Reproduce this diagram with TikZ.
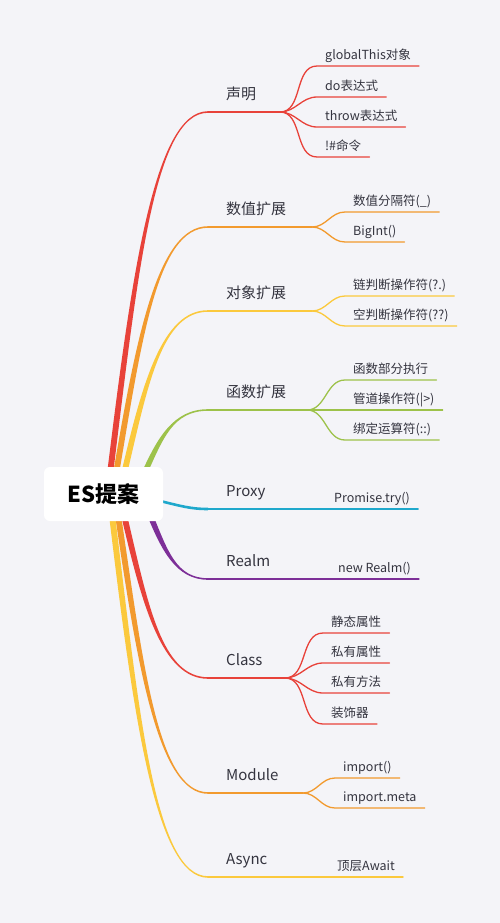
\documentclass[tikz,border=0pt]{standalone}
\usepackage{fontspec}
\setmainfont{Noto Sans CJK SC}
\usepackage{xcolor}
\usepackage{tikz}
\usetikzlibrary{
	positioning,    % posizionamento relativo
	calc            % per le coordinate calcolate (let)
}

% --- Colori ---
\definecolor{sfondo}{HTML}{F4F4F8}
\definecolor{testo}{HTML}{34343F}
\definecolor{rosso}{HTML}{E8423A}
\definecolor{arancio}{HTML}{F29A2E}
\definecolor{giallo}{HTML}{FBC93D}
\definecolor{verde}{HTML}{9DC24A}
\definecolor{ciano}{HTML}{1FA8CC}
\definecolor{viola}{HTML}{7D2F98}

\tikzset{
	radice/.style={fill=white, rounded corners=6pt, minimum width=119pt, minimum height=54pt,
		text=black, font=\fontsize{22}{26}\selectfont\bfseries},
	tema/.style={anchor=base west, inner sep=0pt, text=testo, font=\fontsize{15}{18}\selectfont},
	foglia/.style={anchor=south west, inner xsep=8pt, inner ysep=4pt, text depth=0.25em,
		text=testo, font=\fontsize{12.5}{15}\selectfont},
	linea/.style={line width=1.6pt},
	sottolinea/.style={line width=1.3pt, line cap=round}
}

% Ramo principale rastremato: colore, partenza, arrivo
\newcommand{\ramo}[3]{%
	\fill[#1] let \p1=(#2), \p2=(#3), \n1={ifthenelse(\y2>\y1,1,-1)} in
	({\x1-3pt},\y1) .. controls ({\x1-3pt+0.25*(\x2-\x1)},{\y1+0.55*(\y2-\y1)}) and ({\x1+0.45*(\x2-\x1)},{\y2+\n1*0.8pt}) .. (\x2,{\y2+\n1*0.8pt})
	-- (\x2,{\y2-\n1*0.8pt}) .. controls ({\x1+0.45*(\x2-\x1)},{\y2-\n1*0.8pt}) and ({\x1+3pt+0.25*(\x2-\x1)},{\y1+0.55*(\y2-\y1)}) .. ({\x1+3pt},\y1) -- cycle;
}
% Foglia: colore, biforcazione, nome, x, y, testo
\newcommand{\figlio}[6]{%
	\node[foglia] (#3) at (#4,#5) {#6};
	\draw[#1, sottolinea] (#2) to[out=0,in=180] (#3.south west) -- (#3.south east);
}

\begin{document}
\begin{tikzpicture}[x=1pt, y=-1pt]
	% --- Sfondo ---
	\fill[sfondo] (0,0) rectangle (500,923);
	
	% --- Partenze dei rami (sotto la radice) ---
	\coordinate (r1) at (110,474);
	\coordinate (r2) at (116,474);
	\coordinate (r3) at (124,474);
	\coordinate (r4) at (144,474);
	\coordinate (r5) at (156,500);
	\coordinate (r6) at (150,515);
	\coordinate (r7) at (124,515);
	\coordinate (r8) at (118,515);
	\coordinate (r9) at (112,515);
	
	% --- Temi ---
	\coordinate (a1) at (208,112); \coordinate (s1) at (280,112);
	\coordinate (a2) at (208,227); \coordinate (s2) at (312,227);
	\coordinate (a3) at (208,311); \coordinate (s3) at (312,311);
	\coordinate (a4) at (208,410); \coordinate (s4) at (307,410);
	\coordinate (a5) at (208,509); \coordinate (s5) at (290,509);
	\coordinate (a6) at (208,579); \coordinate (s6) at (290,579);
	\coordinate (a7) at (208,678); \coordinate (s7) at (285,678);
	\coordinate (a8) at (208,793); \coordinate (s8) at (303,793);
	\coordinate (a9) at (208,877); \coordinate (s9) at (290,877);
	
	\node[tema] (t1) at (226,99.5) {声明};
	\node[tema] (t2) at (226,214.5) {数值扩展};
	\node[tema] (t3) at (226,298.5) {对象扩展};
	\node[tema] (t4) at (226,397.5) {函数扩展};
	\node[tema] (t5) at (226,496.5) {Proxy};
	\node[tema] (t6) at (226,566.5) {Realm};
	\node[tema] (t7) at (226,665.5) {Class};
	\node[tema] (t8) at (226,780.5) {Module};
	\node[tema] (t9) at (226,864.5) {Async};
	
	% --- Rami principali ---
	\ramo{rosso}{r1}{a1}
	\ramo{arancio}{r2}{a2}
	\ramo{giallo}{r3}{a3}
	\ramo{verde}{r4}{a4}
	\draw[ciano, line width=2.6pt] (r5) .. controls +(25,6) and +(-18,0) .. (a5);
	\ramo{viola}{r6}{a6}
	\ramo{rosso}{r7}{a7}
	\ramo{arancio}{r8}{a8}
	\ramo{giallo}{r9}{a9}
	
	\draw[rosso, linea] (a1) -- (s1);
	\draw[arancio, linea] (a2) -- (s2);
	\draw[giallo, linea] (a3) -- (s3);
	\draw[verde, linea] (a4) -- (s4);
	\draw[ciano, linea] (a5) -- (s5);
	\draw[viola, linea] (a6) -- (s6);
	\draw[rosso, linea] (a7) -- (s7);
	\draw[arancio, linea] (a8) -- (s8);
	\draw[giallo, linea] (a9) -- (s9);
	
	% --- Foglie ---
	\figlio{rosso}{s1}{f11}{317}{66}{globalThis对象}
	\figlio{rosso}{s1}{f12}{317}{97}{do表达式}
	\figlio{rosso}{s1}{f13}{317}{127}{throw表达式}
	\figlio{rosso}{s1}{f14}{317}{157}{!\#命令}
	
	\figlio{arancio}{s2}{f21}{345}{212}{数值分隔符(\_)}
	\figlio{arancio}{s2}{f22}{345}{242}{BigInt()}
	
	\figlio{giallo}{s3}{f31}{345}{296}{链判断操作符(?.)}
	\figlio{giallo}{s3}{f32}{345}{326}{空判断操作符(??)}
	
	\figlio{verde}{s4}{f41}{345}{380}{函数部分执行}
	\figlio{verde}{s4}{f42}{345}{410}{管道操作符(|>)}
	\figlio{verde}{s4}{f43}{345}{440}{绑定运算符(::)}
	
	\figlio{ciano}{s5}{f51}{326}{509}{Promise.try()}
	\figlio{viola}{s6}{f61}{330}{579}{new Realm()}
	
	\figlio{rosso}{s7}{f71}{323}{633}{静态属性}
	\figlio{rosso}{s7}{f72}{323}{663}{私有属性}
	\figlio{rosso}{s7}{f73}{323}{693}{私有方法}
	\figlio{rosso}{s7}{f74}{323}{724}{装饰器}
	
	\figlio{arancio}{s8}{f81}{335}{778}{import()}
	\figlio{arancio}{s8}{f82}{335}{808}{import.meta}
	
	\figlio{giallo}{s9}{f91}{329}{877}{顶层Await}
	
	% --- Radice ---
	\node[radice] (r) at (103.5,494) {ES提案};
\end{tikzpicture}
\end{document}
